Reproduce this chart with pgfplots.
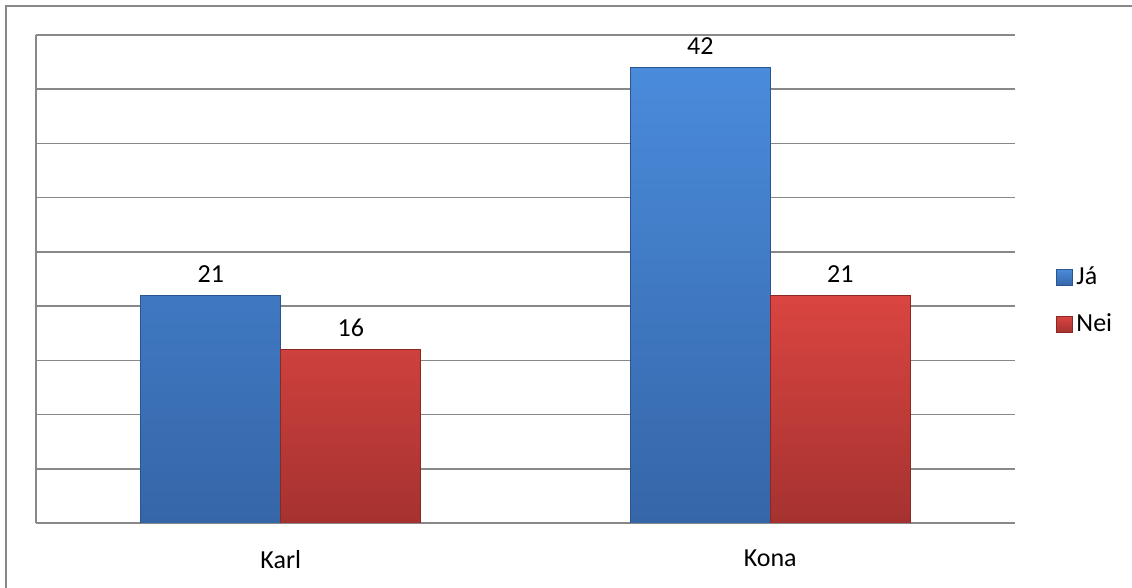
\documentclass[border=0pt]{standalone}
\usepackage{pgfplots}
\pgfplotsset{compat=1.18}
\usepackage{fontspec}
\setmainfont{Carlito}

\definecolor{gridgray}{HTML}{888888}
\definecolor{blueTop}{HTML}{4A8BDB}
\definecolor{blueBot}{HTML}{3566A8}
\definecolor{blueEdge}{HTML}{2A5590}
\definecolor{redTop}{HTML}{DA4541}
\definecolor{redBot}{HTML}{A53230}
\definecolor{redEdge}{HTML}{8A2826}

\begin{document}
\begin{tikzpicture}
% 1 px of the reference = 0.5pt
\path[use as bounding box] (0pt,0pt) rectangle (566pt,294pt);
\draw[gridgray, line width=0.6pt] (3pt,0pt) -- (3pt,291pt) -- (566pt,291pt);
\begin{axis}[
    at={(18pt,32.5pt)}, anchor=south west,
    scale only axis,
    width=489.5pt, height=244pt,
    ybar=0pt, bar width=70pt,
    xmin=-0.5, xmax=1.5,
    ymin=0, ymax=45,
    xtick=data,
    xticklabels={Karl, Kona},
    ytick={0,5,...,45},
    yticklabels={},
    major tick length=0pt,
    ymajorgrids,
    grid style={gridgray, line width=0.8pt},
    axis x line*=bottom,
    axis y line*=left,
    axis line style={gridgray, line width=0.8pt, -},
    font=\fontsize{13}{15}\selectfont,
    xticklabel style={yshift=-10pt},
    /pgf/number format/assume math mode=true,
    nodes near coords,
    nodes near coords style={font=\fontsize{13}{15}\selectfont, yshift=3pt},
    legend style={draw=none, fill=none, at={(1.035,0.455)}, anchor=west,
        font=\fontsize{13}{15}\selectfont, row sep=9pt,
        legend cell align=left},
    legend image code/.code={
        \draw[#1] (0pt,-4pt) rectangle (8pt,4pt);
    },
]
\addplot[top color=blueTop, bottom color=blueBot, draw=blueEdge, line width=0.4pt]
    coordinates {(0,21) (1,42)};
\addplot[top color=redTop, bottom color=redBot, draw=redEdge, line width=0.4pt]
    coordinates {(0,16) (1,21)};
\legend{Já, Nei}
\end{axis}
\end{tikzpicture}
\end{document}
